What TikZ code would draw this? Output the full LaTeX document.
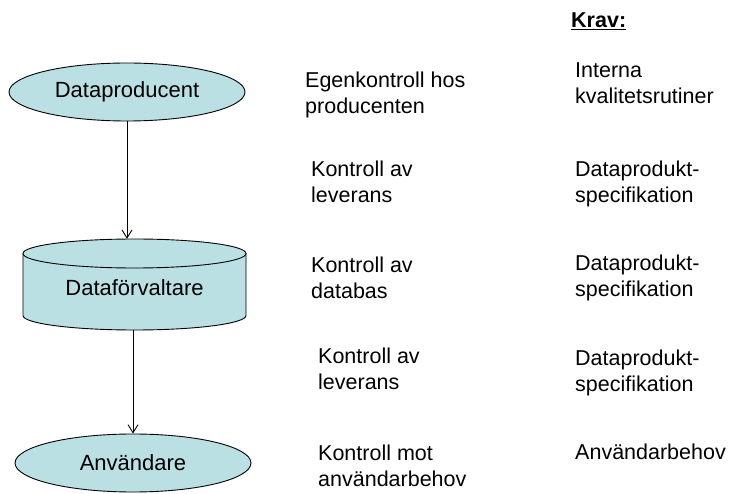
\documentclass[tikz,border=0pt]{standalone}
\usepackage{fontspec}
\setmainfont{Liberation Sans}
\usetikzlibrary{shapes.geometric,arrows.meta}
\definecolor{nodefill}{RGB}{187,224,228}
\tikzset{
  ell/.style={ellipse, draw=black, fill=nodefill, line width=0.9pt, inner sep=0pt,
    minimum width=236pt, minimum height=58pt, font=\fontsize{22}{26}\selectfont},
  lbl/.style={anchor=base west, align=left, inner sep=0pt,
    font=\fontsize{21.5}{26}\selectfont},
  arr/.style={line width=0.9pt, -{Straight Barb[length=8pt,width=10pt,line width=0.9pt]}}
}
\begin{document}
\begin{tikzpicture}[x=1pt,y=-1pt]
\useasboundingbox (0,0) rectangle (731,494);
% nodes
\node[ell] (dp) at (127,92) {Dataproducent};
\node[minimum width=223pt, minimum height=91pt, inner sep=0pt] (dfv) at (134.5,284.5) {};
\fill[nodefill] (23,253.5) -- (23,315.5) arc[start angle=180,end angle=360,x radius=111.5,y radius=-14.5]
   -- (246,253.5) arc[start angle=0,end angle=180,x radius=111.5,y radius=-14.5] -- cycle;
\draw[line width=0.9pt] (23,253.5) -- (23,315.5) arc[start angle=180,end angle=360,x radius=111.5,y radius=-14.5]
   -- (246,253.5);
\draw[line width=0.9pt] (134.5,253.5) ellipse [x radius=111.5, y radius=14.5];
\node[font=\fontsize{22}{26}\selectfont] at (134.5,288) {Dataförvaltare};
\node[ell] (an) at (133,463) {Användare};
% arrows
\draw[arr] (dp.south) -- (dp.south |- dfv.north);
\draw[arr] (an.north |- dfv.south) -- (an.north);
% column 1 (anchored at the baseline of the last line)
\node[lbl] (c1) at (305,114) {Egenkontroll hos\\producenten};
\node[lbl] (c2) at (311,203) {Kontroll av\\leverans};
\node[lbl] (c3) at (311,299) {Kontroll av\\databas};
\node[lbl] (c4) at (318,389) {Kontroll av\\leverans};
\node[lbl] (c5) at (318,486) {Kontroll mot\\användarbehov};
% column 2
\node[lbl] (krav) at (571,28) {\textbf{\underline{Krav:}}};
\node[lbl] (k1) at (575,104) {Interna\\kvalitetsrutiner};
\node[lbl] (k2) at (575,203) {Dataprodukt-\\specifikation};
\node[lbl] (k3) at (575,297) {Dataprodukt-\\specifikation};
\node[lbl] (k4) at (575,391) {Dataprodukt-\\specifikation};
\node[lbl] (k5) at (575,459) {Användarbehov};
\end{tikzpicture}
\end{document}
